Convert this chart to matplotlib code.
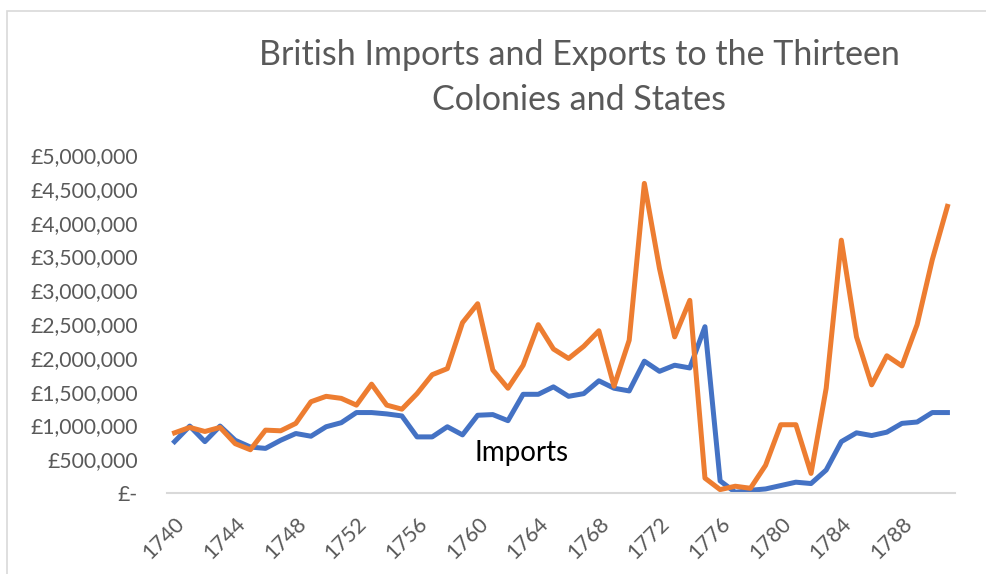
import numpy as np
import matplotlib
matplotlib.use("Agg")
import matplotlib.pyplot as plt
from matplotlib.ticker import FuncFormatter
from matplotlib.patches import Rectangle

# data (pounds)
years = list(range(1740, 1792))
imports = [0.76, 0.99, 0.76, 0.99, 0.78, 0.68, 0.66, 0.78, 0.88, 0.84,
           0.98, 1.04, 1.19, 1.19, 1.17, 1.14, 0.83, 0.83, 0.98, 0.86,
           1.15, 1.16, 1.07, 1.46, 1.46, 1.57, 1.43, 1.47, 1.66, 1.55,
           1.51, 1.95, 1.80, 1.89, 1.85, 2.46, 0.18, 0.01, 0.04, 0.06,
           0.11, 0.16, 0.14, 0.34, 0.76, 0.89, 0.85, 0.90, 1.03, 1.05,
           1.19, 1.19]
exports = [0.89, 0.97, 0.91, 0.97, 0.73, 0.64, 0.93, 0.92, 1.03, 1.35,
           1.43, 1.40, 1.30, 1.61, 1.30, 1.24, 1.47, 1.75, 1.84, 2.52,
           2.80, 1.82, 1.55, 1.89, 2.49, 2.13, 1.99, 2.17, 2.40, 1.58,
           2.26, 4.58, 3.32, 2.31, 2.85, 0.22, 0.05, 0.10, 0.07, 0.41,
           1.01, 1.01, 0.29, 1.55, 3.74, 2.31, 1.60, 2.03, 1.88, 2.49,
           3.45, 4.24]
imports = np.array(imports) * 1e6
exports = np.array(exports) * 1e6
tick_years = list(range(1740, 1792, 4))

plt.rcParams['font.family'] = ['Lato', 'DejaVu Sans']
grey = '#595959'

W, H = 986, 574
fig = plt.figure(figsize=(W / 100, H / 100), dpi=100)

# chart area border (Excel style, cropped at right / bottom)
fig.patches.append(Rectangle((7 / W, -0.1), 1.2, 1 - 11 / H + 0.1,
                             transform=fig.transFigure, fill=False,
                             edgecolor='#d9d9d9', linewidth=1.2))

ax = fig.add_axes([167 / W, 1 - 493 / H, (955 - 167) / W, (493 - 155) / H])
x = np.arange(len(years))
ax.plot(x, imports, color='#4472C4', linewidth=3.6, solid_joinstyle='round')
ax.plot(x, exports, color='#ED7D31', linewidth=3.6, solid_joinstyle='round')

ax.set_xlim(-0.5, len(years) - 0.5)
ax.set_ylim(0, 5e6)
ax.set_yticks(np.arange(0, 5.01e6, 5e5))


def money(v, pos):
    if v == 0:
        return '£-'
    return '£{:,.0f}'.format(v)


ax.yaxis.set_major_formatter(FuncFormatter(money))
ax.set_xticks([years.index(t) for t in tick_years])
ax.set_xticklabels([str(t) for t in tick_years], rotation=45, ha='right',
                   rotation_mode='anchor')

for s in ['top', 'right', 'left']:
    ax.spines[s].set_visible(False)
ax.spines['bottom'].set_color('#d9d9d9')
ax.spines['bottom'].set_linewidth(1.5)
ax.tick_params(axis='both', length=0, labelcolor=grey)
ax.tick_params(axis='y', pad=21, labelsize=15.2)
ax.tick_params(axis='x', pad=15, labelsize=15.5)

ax.text(22.87, 0.59e6, 'Imports', fontsize=20,
        color='black', ha='center', va='center')

fig.text(579.5 / W, 1 - 77.5 / H,
         'British Imports and Exports to the Thirteen\nColonies and States',
         ha='center', va='center', fontsize=24.5, color=grey, linespacing=1.5)

fig.savefig('out.png', dpi=100)
